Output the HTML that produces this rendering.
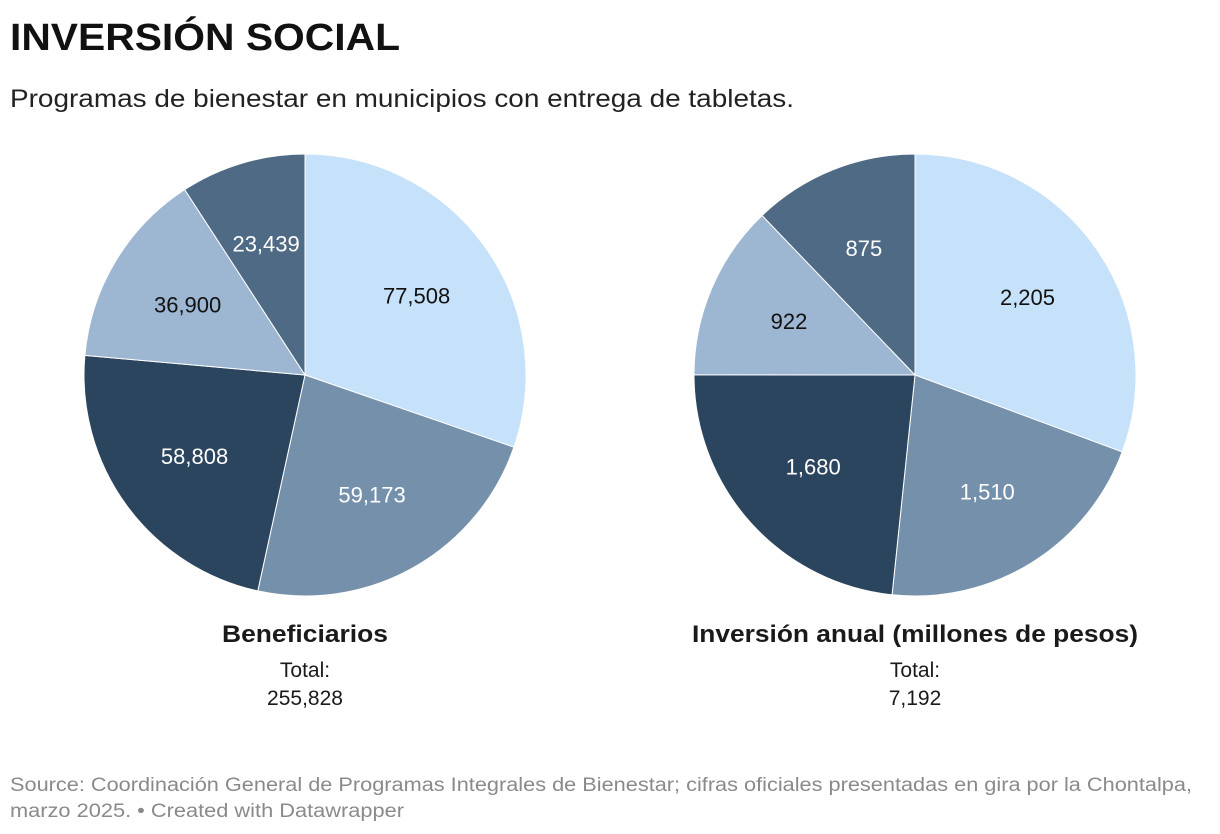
<!DOCTYPE html>
<html><head><meta charset="utf-8"><style>
html,body{margin:0;padding:0;background:#fff;}
svg{display:block;font-family:"Liberation Sans",Arial,sans-serif;}
</style></head><body>
<svg id="chart" width="1220" height="834" viewBox="0 0 1220 834" xmlns="http://www.w3.org/2000/svg">
<text x="10" y="50" font-size="38" font-weight="bold" fill="#111" textLength="390" lengthAdjust="spacingAndGlyphs">INVERSIÓN SOCIAL</text>
<text x="10" y="107" font-size="25" fill="#222" textLength="784" lengthAdjust="spacingAndGlyphs">Programas de bienestar en municipios con entrega de tabletas.</text>
<g id="pies"></g>
<text x="305" y="642" font-size="24" font-weight="bold" fill="#1a1a1a" text-anchor="middle" textLength="166" lengthAdjust="spacingAndGlyphs">Beneficiarios</text>
<text x="305" y="677" font-size="21" fill="#1a1a1a" text-anchor="middle">Total:</text>
<text x="305" y="705" font-size="21" fill="#1a1a1a" text-anchor="middle">255,828</text>
<text x="915" y="642" font-size="24" font-weight="bold" fill="#1a1a1a" text-anchor="middle" textLength="446" lengthAdjust="spacingAndGlyphs">Inversión anual (millones de pesos)</text>
<text x="915" y="677" font-size="21" fill="#1a1a1a" text-anchor="middle">Total:</text>
<text x="915" y="705" font-size="21" fill="#1a1a1a" text-anchor="middle">7,192</text>
<text x="10" y="791" font-size="19" fill="#8a8a8a" textLength="1182" lengthAdjust="spacingAndGlyphs">Source: Coordinación General de Programas Integrales de Bienestar; cifras oficiales presentadas en gira por la Chontalpa,</text>
<text x="10" y="817" font-size="19" fill="#8a8a8a" textLength="394" lengthAdjust="spacingAndGlyphs">marzo 2025. • Created with Datawrapper</text>
</svg>
<script>
const beneficiarios = [77508, 59173, 58808, 36900, 23439];
const inversion = [2205, 1510, 1680, 922, 875];
const beneficiariosLabels = ["77,508", "59,173", "58,808", "36,900", "23,439"];
const inversionLabels = ["2,205", "1,510", "1,680", "922", "875"];
const colors = ["#c6e2fb", "#7590aa", "#2c455e", "#9db6d2", "#4f6a84"];
const textColors = ["#111", "#fff", "#fff", "#111", "#fff"];
const NS = "http://www.w3.org/2000/svg";
const g = document.getElementById("pies");
function pie(vals, labels, cx, cy, r, name) {
  const total = vals.reduce((a, b) => a + b, 0);
  let a0 = 0;
  vals.forEach((v, i) => {
    const a1 = a0 + v / total * Math.PI * 2;
    const x0 = cx + r * Math.sin(a0), y0 = cy - r * Math.cos(a0);
    const x1 = cx + r * Math.sin(a1), y1 = cy - r * Math.cos(a1);
    const p = document.createElementNS(NS, "path");
    p.setAttribute("d", `M${cx},${cy}L${x0},${y0}A${r},${r} 0 ${a1 - a0 > Math.PI ? 1 : 0} 1 ${x1},${y1}Z`);
    p.setAttribute("fill", colors[i]);
    p.setAttribute("stroke", "#fff");
    p.setAttribute("stroke-width", "1");
    
    
    g.appendChild(p);
    const am = (a0 + a1) / 2, lr = r * 0.62;
    const t = document.createElementNS(NS, "text");
    t.setAttribute("x", cx + lr * Math.sin(am));
    t.setAttribute("y", cy - lr * Math.cos(am) + 8);
    t.setAttribute("text-anchor", "middle");
    t.setAttribute("font-size", "22");
    t.setAttribute("fill", textColors[i]);
    t.textContent = labels[i];
    
    
    g.appendChild(t);
    a0 = a1;
  });
}
pie(beneficiarios, beneficiariosLabels, 305, 375, 221, "beneficiarios");
pie(inversion, inversionLabels, 915, 375, 221, "inversion");
</script>
</body></html>
